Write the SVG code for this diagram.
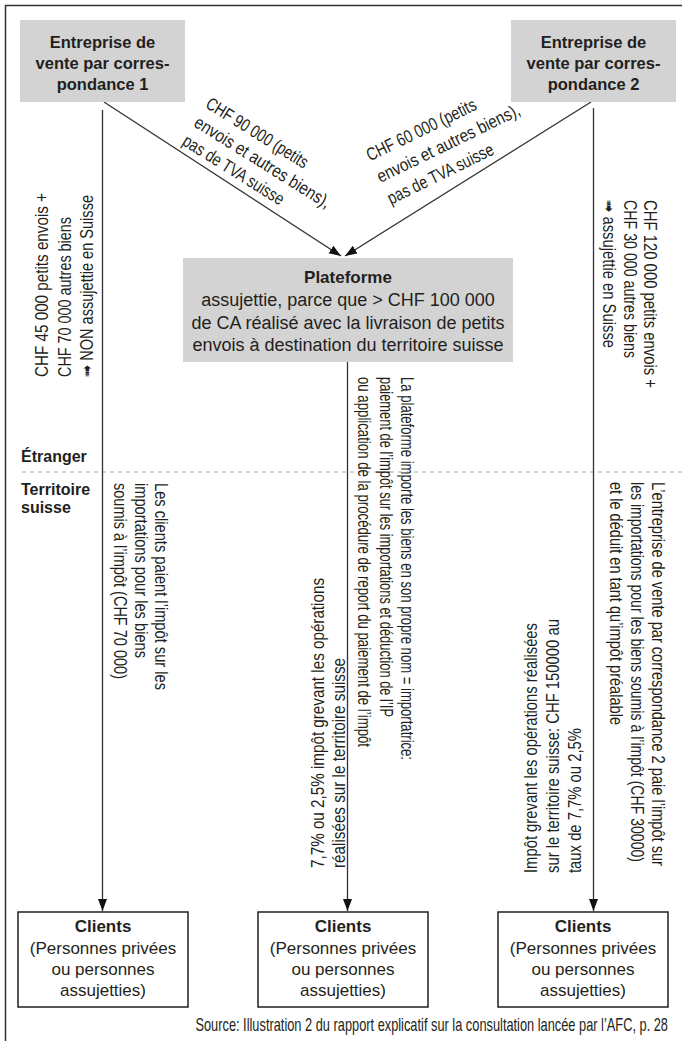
<svg xmlns="http://www.w3.org/2000/svg" width="682" height="1041" viewBox="0 0 682 1041">
<style>
.t{fill:#231f20;font-family:"Liberation Sans",Arial,sans-serif;}
.b{font-weight:bold;}
.n{fill:#231f20;font-family:"Liberation Sans",Arial,"DejaVu Sans",sans-serif;font-size:18px;}
.gbox{fill:#d3d3d3;}
.wbox{fill:#fff;stroke:#231f20;stroke-width:1.5;}
.ln{stroke:#333;stroke-width:1.3;fill:none;}
.dash{stroke:#aaa;stroke-width:1;stroke-dasharray:4 4;}
</style>
<defs>
<marker id="ah" markerUnits="userSpaceOnUse" markerWidth="13" markerHeight="10" refX="12" refY="4.5" orient="auto">
<path d="M0,0 L12,4.5 L0,9 z" fill="#111"/>
</marker>
</defs>
<rect x="0" y="0" width="682" height="1041" fill="#fff"/>
<path d="M5.5,1041 V5.5 H682" fill="none" stroke="#333" stroke-width="1.5"/>
<line class="dash" x1="22" y1="472" x2="682" y2="472"/>

<g id="connectors">
<line class="ln" x1="104" y1="102" x2="341" y2="256" marker-end="url(#ah)"/>
<line class="ln" x1="591" y1="102" x2="345" y2="256" marker-end="url(#ah)"/>
<line class="ln" x1="102.5" y1="110" x2="102.5" y2="911" marker-end="url(#ah)"/>
<line class="ln" x1="347.5" y1="362" x2="347.5" y2="911" marker-end="url(#ah)"/>
<line class="ln" x1="593.5" y1="108" x2="593.5" y2="911" marker-end="url(#ah)"/>
</g>

<g id="node-entreprise1">
<rect class="gbox" x="20" y="20" width="165" height="82"/>
<text class="t b" font-size="16.5" text-anchor="middle"><tspan x="102.5" y="48">Entreprise de</tspan><tspan x="102.5" y="69">vente par corres-</tspan><tspan x="102.5" y="90">pondance 1</tspan></text>
</g>

<g id="node-entreprise2">
<rect class="gbox" x="511" y="20" width="165" height="82"/>
<text class="t b" font-size="16.5" text-anchor="middle"><tspan x="593.5" y="48">Entreprise de</tspan><tspan x="593.5" y="69">vente par corres-</tspan><tspan x="593.5" y="90">pondance 2</tspan></text>
</g>

<g id="node-plateforme">
<rect class="gbox" x="183" y="258" width="330" height="104"/>
<text class="t" font-size="18" text-anchor="middle"><tspan class="b" font-size="17" x="348" y="283">Plateforme</tspan><tspan x="348" y="306">assujettie, parce que &gt; CHF 100 000</tspan><tspan x="348" y="328.5">de CA réalisé avec la livraison de petits</tspan><tspan x="348" y="351">envois à destination du territoire suisse</tspan></text>
</g>

<g id="node-clients1">
<rect class="wbox" x="18" y="912" width="170" height="95"/>
<text class="t" font-size="17" text-anchor="middle"><tspan class="b" x="103" y="932">Clients</tspan><tspan x="103" y="954">(Personnes privées</tspan><tspan x="103" y="975">ou personnes</tspan><tspan x="103" y="996">assujetties)</tspan></text>
</g>
<g id="node-clients2">
<rect class="wbox" x="258" y="912" width="170" height="95"/>
<text class="t" font-size="17" text-anchor="middle"><tspan class="b" x="343" y="932">Clients</tspan><tspan x="343" y="954">(Personnes privées</tspan><tspan x="343" y="975">ou personnes</tspan><tspan x="343" y="996">assujetties)</tspan></text>
</g>
<g id="node-clients3">
<rect class="wbox" x="498" y="912" width="170" height="95"/>
<text class="t" font-size="17" text-anchor="middle"><tspan class="b" x="583" y="932">Clients</tspan><tspan x="583" y="954">(Personnes privées</tspan><tspan x="583" y="975">ou personnes</tspan><tspan x="583" y="996">assujetties)</tspan></text>
</g>

<g id="labels">
<g transform="translate(204.5,107) rotate(32)">
<text class="n" x="0" y="0" textLength="117" lengthAdjust="spacingAndGlyphs">CHF 90 000 (petits</text>
<text class="n" x="0" y="22" textLength="157" lengthAdjust="spacingAndGlyphs">envois et autres biens),</text>
<text class="n" x="0" y="44" textLength="116" lengthAdjust="spacingAndGlyphs">pas de TVA suisse</text>
</g>
<g transform="translate(370,161.5) rotate(-26)">
<text class="n" x="0" y="0" textLength="120" lengthAdjust="spacingAndGlyphs">CHF 60 000 (petits</text>
<text class="n" x="0" y="24" textLength="157" lengthAdjust="spacingAndGlyphs">envois et autres biens),</text>
<text class="n" x="0" y="48" textLength="116" lengthAdjust="spacingAndGlyphs">pas de TVA suisse</text>
</g>

<g transform="translate(48,377) rotate(-90)">
<text class="n" x="0" y="0" textLength="184" lengthAdjust="spacingAndGlyphs">CHF 45 000 petits envois +</text>
<text class="n" x="0" y="22.5" textLength="160" lengthAdjust="spacingAndGlyphs">CHF 70 000 autres biens</text>
<text class="n" x="0" y="45" textLength="182" lengthAdjust="spacingAndGlyphs">➟ NON assujettie en Suisse</text>
</g>
<g transform="translate(644,200) rotate(90)">
<text class="n" x="0" y="0" textLength="188" lengthAdjust="spacingAndGlyphs">CHF 120 000 petits envois +</text>
<text class="n" x="0" y="20.5" textLength="158" lengthAdjust="spacingAndGlyphs">CHF 30 000 autres biens</text>
<text class="n" x="0" y="41" textLength="148" lengthAdjust="spacingAndGlyphs">➟ assujettie en Suisse</text>
</g>

<g transform="translate(401,377) rotate(90)">
<text class="n" x="0" y="0" textLength="383" lengthAdjust="spacingAndGlyphs">La plateforme importe les biens en son propre nom = importatrice:</text>
<text class="n" x="0" y="21.5" textLength="340" lengthAdjust="spacingAndGlyphs">paiement de l’impôt sur les importations et déduction de l’IP</text>
<text class="n" x="0" y="43" textLength="370" lengthAdjust="spacingAndGlyphs">ou application de la procédure de report du paiement de l’impôt</text>
</g>
<g transform="translate(155,483) rotate(90)">
<text class="n" x="0" y="0" textLength="207" lengthAdjust="spacingAndGlyphs">Les clients paient l’impôt sur les</text>
<text class="n" x="0" y="20.5" textLength="175" lengthAdjust="spacingAndGlyphs">importations pour les biens</text>
<text class="n" x="0" y="41" textLength="196" lengthAdjust="spacingAndGlyphs">soumis à l’impôt (CHF 70 000)</text>
</g>
<g transform="translate(324,868) rotate(-90)">
<text class="n" x="0" y="0" textLength="290" lengthAdjust="spacingAndGlyphs">7,7% ou 2,5% impôt grevant les opérations</text>
<text class="n" x="0" y="20.5" textLength="210" lengthAdjust="spacingAndGlyphs">réalisées sur le territoire suisse</text>
</g>
<g transform="translate(537,873) rotate(-90)">
<text class="n" x="0" y="0" textLength="250" lengthAdjust="spacingAndGlyphs">Impôt grevant les opérations réalisées</text>
<text class="n" x="0" y="22" textLength="254" lengthAdjust="spacingAndGlyphs">sur le territoire suisse: CHF 150000 au</text>
<text class="n" x="0" y="44" textLength="145" lengthAdjust="spacingAndGlyphs">taux de 7,7% ou 2,5%</text>
</g>
<g transform="translate(652,482) rotate(90)">
<text class="n" x="0" y="0" textLength="384" lengthAdjust="spacingAndGlyphs">L’entreprise de vente par correspondance 2 paie l’impôt sur</text>
<text class="n" x="0" y="21" textLength="380" lengthAdjust="spacingAndGlyphs">les importations pour les biens soumis à l’impôt (CHF 30000)</text>
<text class="n" x="0" y="42" textLength="243" lengthAdjust="spacingAndGlyphs">et le déduit en tant qu’impôt préalable</text>
</g>

<text class="t b" font-size="16" x="21" y="462">Étranger</text>
<text class="t b" font-size="16" x="21" y="495">Territoire</text>
<text class="t b" font-size="16" x="21" y="513">suisse</text>

<g transform="translate(668,1031) scale(0.712,1)">
<text class="n" font-size="14" x="0" y="0" text-anchor="end">Source: Illustration 2 du rapport explicatif sur la consultation lancée par l’AFC, p. 28</text>
</g>
</g>
</svg>
